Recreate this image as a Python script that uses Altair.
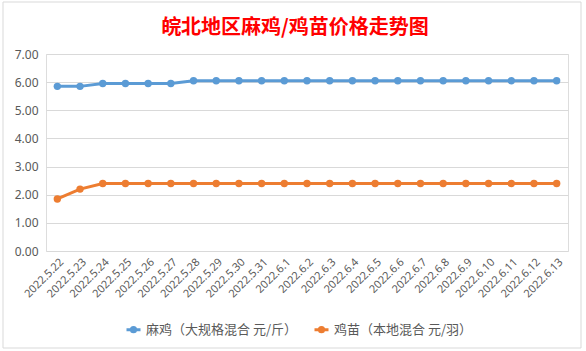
import altair as alt
import pandas as pd

dates = ["2022.5.22", "2022.5.23", "2022.5.24", "2022.5.25", "2022.5.26", "2022.5.27",
         "2022.5.28", "2022.5.29", "2022.5.30", "2022.5.31", "2022.6.1", "2022.6.2",
         "2022.6.3", "2022.6.4", "2022.6.5", "2022.6.6", "2022.6.7", "2022.6.8",
         "2022.6.9", "2022.6.10", "2022.6.11", "2022.6.12", "2022.6.13"]
maji = [5.85, 5.85, 5.95, 5.95, 5.95, 5.95, 6.05, 6.05, 6.05, 6.05, 6.05, 6.05,
        6.05, 6.05, 6.05, 6.05, 6.05, 6.05, 6.05, 6.05, 6.05, 6.05, 6.05]
jimiao = [1.85, 2.2, 2.4, 2.4, 2.4, 2.4, 2.4, 2.4, 2.4, 2.4, 2.4, 2.4,
          2.4, 2.4, 2.4, 2.4, 2.4, 2.4, 2.4, 2.4, 2.4, 2.4, 2.4]
series_names = ["麻鸡（大规格混合 元/斤）", "鸡苗（本地混合 元/羽）"]
colors = ["#5B9BD5", "#ED7D31"]

rows = []
for d, v in zip(dates, maji):
    rows.append({"date": d, "price": v, "series": series_names[0]})
for d, v in zip(dates, jimiao):
    rows.append({"date": d, "price": v, "series": series_names[1]})
df = pd.DataFrame(rows)

legend_path = "M-1,0H1M-0.3,0A0.3,0.3,0,1,0,0.3,0A0.3,0.3,0,1,0,-0.3,0Z"

x_enc = alt.X("date:N", sort=dates, scale=alt.Scale(type="point", padding=0.5),
              axis=alt.Axis(title=None, labelAngle=-45, labelFontSize=11,
                            labelColor="#595959", ticks=False, domain=False,
                            grid=False, labelPadding=5, labelFont="Noto Sans"))
y_enc = alt.Y("price:Q", scale=alt.Scale(domain=[0, 7], nice=False),
              axis=alt.Axis(title=None, values=[0, 1, 2, 3, 4, 5, 6, 7], format=".2f",
                            labelFontSize=12, labelColor="#595959", ticks=False,
                            domain=False, gridColor="#d9d9d9", labelPadding=8,
                            labelFont="Noto Sans"))
color_enc = alt.Color("series:N", sort=series_names,
                      scale=alt.Scale(domain=series_names, range=colors),
                      legend=alt.Legend(
                          title=None, orient="none", direction="horizontal",
                          legendX=79, legendY=267,
                          symbolType=legend_path, symbolSize=196, symbolStrokeWidth=3,
                          labelFontSize=13, labelColor="#595959",
                          labelFont="Noto Sans CJK SC",
                          columnPadding=10, labelOffset=4))

frame = alt.Chart(pd.DataFrame({"k": [0]})).mark_rect(
    fill="white", fillOpacity=0, stroke="#d9d9d9", strokeWidth=1
).encode(x=alt.value(-43), x2=alt.value(535), y=alt.value(-52), y2=alt.value(294))

base = alt.Chart(df).encode(x=x_enc, y=y_enc, color=color_enc)
lines = base.mark_line(strokeWidth=3)
points = base.mark_point(filled=True, size=55, opacity=1)

chart = alt.layer(frame, lines, points).properties(
    width=522, height=197,
    autosize=alt.AutoSizeParams(type="none"),
    padding={"left": 46, "top": 54, "right": 18, "bottom": 100},
    title=alt.TitleParams(
        "皖北地区麻鸡/鸡苗价格走势图", color="#FF0000", fontSize=20,
        font="Noto Sans CJK SC", fontWeight="bold", anchor="middle", dx=-12, offset=-36,
    ),
).configure_view(stroke=None).configure(background="white")

chart.save("out.html", embed_options={"renderer": "svg", "actions": False})
